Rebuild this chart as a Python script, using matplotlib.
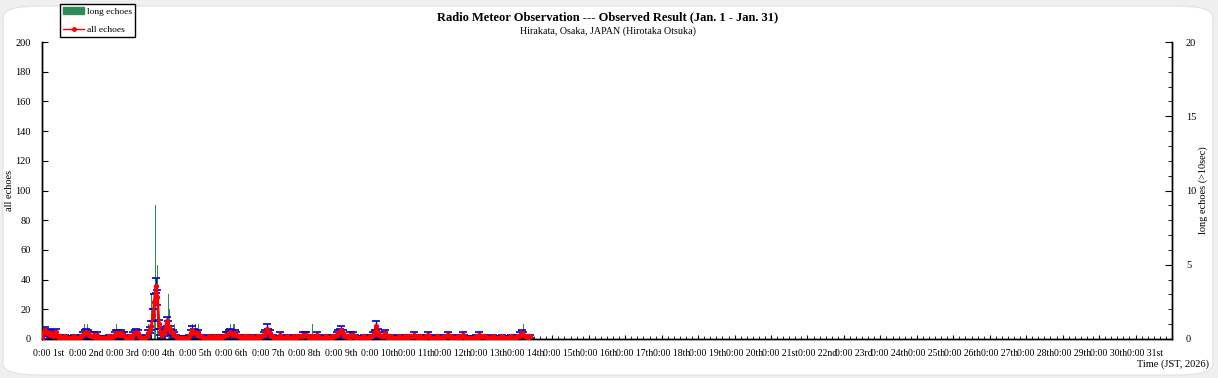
import matplotlib
matplotlib.use("Agg")
import matplotlib.pyplot as plt
from matplotlib.patches import Patch, FancyBboxPatch
from matplotlib.lines import Line2D
from matplotlib.ticker import MultipleLocator, FixedLocator, NullFormatter
import numpy as np

plt.rcParams['font.family'] = ['Liberation Serif', 'DejaVu Serif']

# ---- data: hourly counts starting Jan 1 0:00 JST ----
day01 = [1, 5, 6, 4, 5, 3, 4, 2, 3, 5, 2, 1, 2, 1, 1, 2, 1, 1, 0, 1, 1, 2, 1, 1]
day02 = [1, 1, 2, 3, 4, 5, 4, 3, 2, 2, 3, 1, 3, 1, 1, 1, 0, 1, 1, 1, 2, 1, 1, 2]
day03 = [3, 4, 4, 3, 4, 3, 3, 1, 1, 1, 2, 1, 3, 4, 5, 4, 2, 1, 1, 1, 1, 2, 4, 6]
day04 = [9, 16, 25, 36, 28, 10, 5, 3, 4, 6, 12, 9, 7, 5, 4, 3, 2, 1, 1, 1, 1, 1, 0, 1]
day05 = [1, 2, 4, 6, 5, 4, 3, 4, 2, 2, 1, 1, 1, 1, 2, 1, 1, 2, 1, 1, 2, 1, 1, 2]
day06 = [2, 3, 3, 4, 5, 4, 3, 4, 3, 2, 2, 1, 1, 2, 1, 2, 1, 1, 2, 1, 1, 1, 2, 1]
day07 = [2, 2, 3, 4, 7, 5, 4, 2, 2, 1, 1, 1, 1, 3, 1, 1, 1, 2, 1, 1, 1, 1, 2, 1]
day08 = [2, 2, 2, 2, 3, 3, 3, 2, 1, 1, 2, 1, 1, 3, 2, 1, 1, 1, 1, 2, 1, 1, 1, 2]
day09 = [2, 2, 3, 4, 5, 6, 4, 2, 2, 2, 1, 3, 2, 3, 2, 1, 1, 1, 1, 1, 2, 1, 1, 1]
day10 = [2, 2, 3, 4, 9, 5, 3, 2, 2, 3, 4, 2, 1, 1, 2, 1, 1, 1, 1, 2, 1, 1, 1, 2]
day11 = [1, 2, 2, 2, 2, 3, 2, 1, 1, 2, 1, 1, 1, 2, 3, 2, 1, 1, 1, 1, 2, 1, 1, 1]
day12 = [1, 2, 2, 3, 2, 2, 1, 1, 1, 1, 2, 1, 2, 3, 2, 1, 1, 1, 1, 1, 1, 1, 2, 1]
day13 = [3, 2, 2, 2, 2, 1, 1, 1, 1, 2, 1, 1, 1, 1, 1, 2, 1, 1, 1, 1, 1, 2, 1, 1]
day14 = [1, 2, 2, 3, 4, 3, 2, 2, 1, 2]

err01 = [1, 2, 2, 2, 2, 2, 2, 1, 2, 2, 1, 1, 1, 1, 1, 1, 1, 1, 0, 1, 1, 1, 1, 1]
err02 = [1, 1, 1, 2, 2, 2, 2, 2, 1, 1, 2, 1, 2, 1, 1, 1, 0, 1, 1, 1, 1, 1, 1, 1]
err03 = [2, 2, 2, 2, 2, 2, 2, 1, 1, 1, 1, 1, 2, 2, 2, 2, 1, 1, 1, 1, 1, 1, 2, 2]
err04 = [3, 4, 5, 5, 5, 3, 2, 2, 2, 2, 3, 3, 2, 2, 2, 2, 1, 1, 1, 1, 1, 1, 0, 1]
err05 = [1, 1, 2, 3, 2, 2, 2, 2, 1, 1, 1, 1, 1, 1, 1, 1, 1, 1, 1, 1, 1, 1, 1, 1]
err06 = [1, 2, 2, 2, 2, 2, 2, 2, 2, 1, 1, 1, 1, 1, 1, 1, 1, 1, 1, 1, 1, 1, 1, 1]
err07 = [1, 1, 2, 2, 3, 2, 2, 1, 1, 1, 1, 1, 1, 2, 1, 1, 1, 1, 1, 1, 1, 1, 1, 1]
err08 = [1, 1, 1, 1, 2, 2, 2, 1, 1, 1, 1, 1, 1, 2, 1, 1, 1, 1, 1, 1, 1, 1, 1, 1]
err09 = [1, 1, 2, 2, 2, 3, 2, 1, 1, 1, 1, 2, 1, 2, 1, 1, 1, 1, 1, 1, 1, 1, 1, 1]
err10 = [1, 1, 2, 2, 3, 2, 2, 1, 1, 2, 2, 1, 1, 1, 1, 1, 1, 1, 1, 1, 1, 1, 1, 1]
err11 = [1, 1, 1, 1, 1, 2, 1, 1, 1, 1, 1, 1, 1, 1, 2, 1, 1, 1, 1, 1, 1, 1, 1, 1]
err12 = [1, 1, 1, 2, 1, 1, 1, 1, 1, 1, 1, 1, 1, 2, 1, 1, 1, 1, 1, 1, 1, 1, 1, 1]
err13 = [2, 1, 1, 1, 1, 1, 1, 1, 1, 1, 1, 1, 1, 1, 1, 1, 1, 1, 1, 1, 1, 1, 1, 1]
err14 = [1, 1, 1, 2, 2, 2, 1, 1, 1, 1]

all_echoes = (day01 + day02 + day03 + day04 + day05 + day06 + day07 + day08 +
              day09 + day10 + day11 + day12 + day13 + day14)
all_err = (err01 + err02 + err03 + err04 + err05 + err06 + err07 + err08 +
           err09 + err10 + err11 + err12 + err13 + err14)
hours = list(range(len(all_echoes)))

# long echoes (>10 s): hour index (from Jan 1 0:00) and count
long_hours = [28, 30, 49, 70, 72, 74, 75, 76, 83, 84, 87, 99, 101, 103, 124, 126, 127, 178, 317]
long_counts = [1, 1, 1, 1, 3, 2, 9, 5, 3, 2, 1, 1, 1, 1, 1, 1, 1, 1, 1]

day_names = ['1st', '2nd', '3rd'] + [f'{d}th' for d in range(4, 21)] + ['21st', '22nd', '23rd'] + \
            [f'{d}th' for d in range(24, 31)] + ['31st']
tick_labels = [f'0:00 {n}' for n in day_names]

# ---- figure ----
W, H = 1218, 378
fig = plt.figure(figsize=(W / 100, H / 100), dpi=100, facecolor='#efefef')
bg = FancyBboxPatch((3 / W, 3 / H), (W - 8) / W, (H - 9) / H,
                    boxstyle='round,pad=0,rounding_size=0.03', transform=fig.transFigure,
                    facecolor='white', edgecolor='#e2e2e2', lw=0.8, zorder=-10)
fig.patches.append(bg)

ax = fig.add_axes([42 / W, 1 - 339 / H, (1172 - 42) / W, (339 - 42) / H])
ax2 = ax.twinx()
ax.set_zorder(ax2.get_zorder() + 1)
ax.patch.set_visible(False)

ax2.bar(long_hours, long_counts, width=0.7, color='#2e8b57', zorder=1)
ax.errorbar(hours, all_echoes, yerr=all_err, fmt='none', ecolor='#0000cc',
            elinewidth=1, capsize=2.8, capthick=1.2, zorder=2)
ax.plot(hours, all_echoes, color='#ff0000', lw=2.0, marker='o', ms=3.8,
        markeredgewidth=0, zorder=3)

ax.set_xlim(0, 744)
ax.set_ylim(0, 200)
ax2.set_ylim(0, 20)

for a in (ax, ax2):
    a.spines['top'].set_visible(False)
    for s in ('left', 'right', 'bottom'):
        a.spines[s].set_linewidth(1.0)
        a.spines[s].set_color('black')

ax.yaxis.set_major_locator(MultipleLocator(20))
ax2.yaxis.set_major_locator(MultipleLocator(5))
ax2.yaxis.set_minor_locator(MultipleLocator(1))
ax.xaxis.set_major_locator(FixedLocator([24 * k for k in range(31)]))
ax.xaxis.set_minor_locator(MultipleLocator(4))
ax.xaxis.set_major_formatter(NullFormatter())

for k, lab in enumerate(tick_labels):
    ax.annotate(lab, xy=(24 * k, 0), xycoords=('data', 'axes fraction'),
                xytext=(-9, -15), textcoords='offset pixels',
                ha='left', va='center', fontsize=7)

ax.tick_params(axis='both', which='both', direction='in', labelsize=7.5, colors='black')
ax.tick_params(axis='y', which='major', length=4, pad=8)
ax.tick_params(axis='x', which='major', length=3)
ax.tick_params(axis='x', which='minor', length=2.5)
ax2.tick_params(axis='y', which='major', direction='in', length=5, labelsize=7.5, pad=10)
ax2.tick_params(axis='y', which='minor', direction='in', length=3)

fig.text(10 / W, 1 - 190 / H, 'all echoes', rotation=90, ha='center', va='center', fontsize=7.5)
fig.text(1203 / W, 1 - 190 / H, 'long echoes (>10sec)', rotation=90, ha='center', va='center',
         fontsize=7.5)

fig.text(1209 / W, 1 - 364 / H, 'Time (JST, 2026)', ha='right', va='center', fontsize=7.5)
fig.text(608 / W, 1 - 17 / H, 'Radio Meteor Observation --- Observed Result (Jan. 1 - Jan. 31)',
         ha='center', va='center', fontsize=9, fontweight='bold')
fig.text(608 / W, 1 - 31 / H, 'Hirakata, Osaka, JAPAN (Hirotaka Otsuka)',
         ha='center', va='center', fontsize=7.2)

handles = [Patch(facecolor='#2e8b57', edgecolor='#2e8b57'),
           Line2D([0], [0], color='#ff0000', lw=1, marker='o', ms=2.5)]
leg = fig.legend(handles, ['long echoes', 'all echoes'], loc='upper left',
                 bbox_to_anchor=(60 / W, 1 - 4 / H), fontsize=6.8, frameon=True,
                 fancybox=False, edgecolor='black', framealpha=1, borderpad=0.35,
                 handlelength=2.2, handletextpad=0.3, labelspacing=1.0, borderaxespad=0)
leg.get_frame().set_linewidth(1.0)

fig.savefig('out.png', dpi=100, facecolor=fig.get_facecolor())
